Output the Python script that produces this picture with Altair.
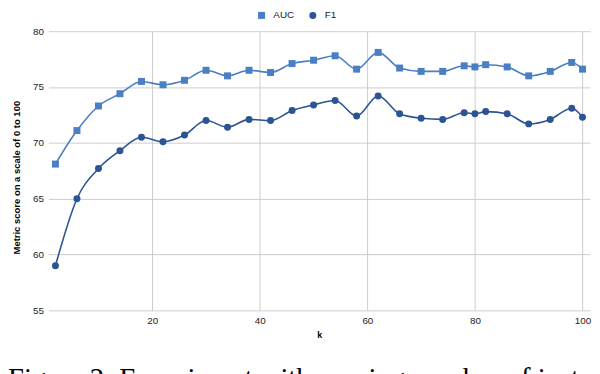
import altair as alt
import pandas as pd

k_values = [2, 6, 10, 14, 18, 22, 26, 30, 34, 38, 42, 46, 50, 54, 58, 62, 66, 70, 74, 78, 80, 82, 86, 90, 94, 98, 100]
auc_values = [68.1, 71.1, 73.3, 74.4, 75.5, 75.2, 75.6, 76.5, 76.0, 76.5, 76.3, 77.1, 77.4, 77.8, 76.6, 78.1,
              76.7, 76.4, 76.4, 76.9, 76.8, 77.0, 76.8, 76.0, 76.4, 77.2, 76.6]
f1_values = [59.0, 65.0, 67.7, 69.3, 70.5, 70.1, 70.7, 72.0, 71.4, 72.1, 72.0, 72.9, 73.4, 73.8, 72.4, 74.2,
             72.6, 72.2, 72.1, 72.7, 72.6, 72.8, 72.6, 71.7, 72.1, 73.1, 72.3]
series = ["AUC", "F1"]
series_colors = ["#4a7fc3", "#2a5494"]
series_shapes = ["square", "circle"]
x_ticks = [20, 40, 60, 80, 100]
y_ticks = [55, 60, 65, 70, 75, 80]
caption = "Figure 2: Experiment with varying number of instances per class"

df = pd.DataFrame({
    "k": k_values + k_values,
    "value": auc_values + f1_values,
    "metric": [series[0]] * len(k_values) + [series[1]] * len(k_values),
})

x_enc = alt.X("k:Q", scale=alt.Scale(domain=[0.7, 101.4], nice=False, zero=False),
              axis=alt.Axis(values=x_ticks, title="k", labelFlush=False, labelPadding=5,
                            titlePadding=6))
y_enc = alt.Y("value:Q", scale=alt.Scale(domain=[55, 80], nice=False, zero=False),
              axis=alt.Axis(values=y_ticks, title="Metric score on a scale of 0 to 100",
                            labelPadding=5, titlePadding=11, titleFontSize=9.6, titleY=148))

legend = alt.Legend(orient="none", legendX=211, legendY=-21, direction="horizontal", title=None,
                    padding=0, symbolSize=50, labelOffset=7, columnPadding=13,
                    labelFont="Liberation Sans", labelFontSize=10, labelColor="#222222",
                    symbolStrokeWidth=0)

line_layers = []
for name, col in zip(series, series_colors):
    line_layers.append(
        alt.Chart(df).transform_filter(alt.datum.metric == name)
        .mark_line(interpolate="monotone", strokeWidth=1.6, color=col)
        .encode(x=x_enc, y=y_enc)
    )

points = alt.Chart(df).mark_point(filled=True, size=50, opacity=1).encode(
    x=x_enc, y=y_enc,
    color=alt.Color("metric:N", scale=alt.Scale(domain=series, range=series_colors), legend=legend),
    shape=alt.Shape("metric:N", scale=alt.Scale(domain=series, range=series_shapes), legend=legend),
)
cap = alt.Chart(pd.DataFrame({"caption": [caption]})).mark_text(
    align="left", baseline="alphabetic", font="Liberation Serif", fontSize=29, color="#000000"
).encode(x=alt.value(-41), y=alt.value(362), text="caption:N")

chart = alt.layer(*line_layers, points, cap).properties(
    width=549, height=283,
    autosize=alt.AutoSizeParams(type="none"),
    padding={"left": 41, "top": 21, "right": 2, "bottom": 62},
).configure_axis(
    grid=True, gridColor="#cccccc", gridWidth=1, domain=False, ticks=False, tickSize=0,
    labelFont="Liberation Sans", labelFontSize=10, labelColor="#222222",
    titleFont="Liberation Sans", titleFontSize=9, titleFontWeight="bold", titleColor="#000000",
).configure_view(strokeWidth=0)

chart.save("out.html", embed_options={"renderer": "svg", "actions": False})
